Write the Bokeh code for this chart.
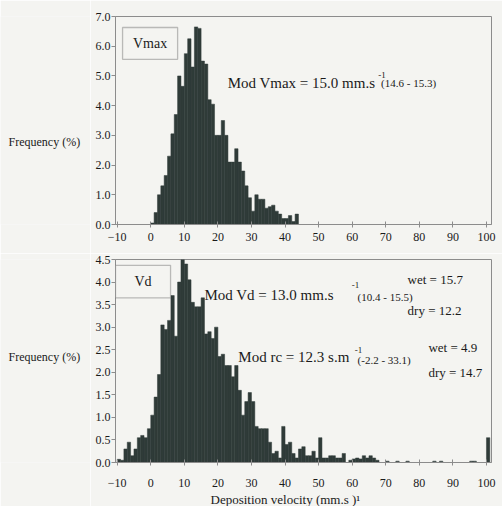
from bokeh.plotting import figure
from bokeh.layouts import column, row
from bokeh.models import FixedTicker, PrintfTickFormatter, Label, BoxAnnotation, Range1d, Title
from bokeh.core.properties import value
from bokeh.embed import file_html
from bokeh.resources import INLINE

# ---------------- data ----------------
x_ticks = [-10, 0, 10, 20, 30, 40, 50, 60, 70, 80, 90, 100]

vmax_left = list(range(0, 44))
vmax_freq = [0.05, 0.4, 1.0, 1.3, 1.65, 2.3, 3.05, 3.7, 5.0, 4.65,
             5.75, 6.25, 5.3, 6.65, 6.6, 5.5, 5.4, 4.2, 4.05, 3.0,
             3.0, 3.5, 3.0, 2.1, 2.1, 2.55, 2.1, 1.8, 1.3, 0.9,
             0.45, 1.0, 0.85, 0.85, 0.55, 0.6, 0.65, 0.45, 0.35, 0.2,
             0.2, 0.3, 0.1, 0.35]

vd_left = list(range(-10, 68)) + [70, 73, 76, 84, 86, 95, 96, 100]
vd_freq = [0.07, 0.05, 0.3, 0.45, 0.15, 0.3, 0.55, 0.6, 0.55, 0.75,
           1.05, 1.45, 1.95, 3.05, 2.95, 3.15, 3.7, 2.8, 4.0, 4.5,
           4.4, 4.05, 3.55, 3.45, 3.45, 3.65, 2.85, 2.9, 2.75, 3.0,
           2.35, 2.4, 2.15, 2.15, 1.9, 2.15, 1.6, 1.05, 1.35, 1.55,
           1.35, 0.8, 0.75, 0.75, 0.75, 0.45, 0.2, 0.25, 0.1, 0.8,
           0.4, 0.45, 0.2, 0.1, 0.3, 0.35, 0.15, 0.15, 0.25, 0.1,
           0.55, 0.1, 0.1, 0.15, 0.15, 0.1, 0.1, 0.2, 0.0, 0.05,
           0.08, 0.1, 0.08, 0.15, 0.1, 0.15, 0.1, 0.05,
           0.03, 0.03, 0.03, 0.03, 0.03, 0.03, 0.03, 0.55]

top_y_ticks = [0, 1, 2, 3, 4, 5, 6, 7]
bot_y_ticks = [0, 0.5, 1.0, 1.5, 2.0, 2.5, 3.0, 3.5, 4.0, 4.5]

y_label = "Frequency (%)"
x_label = "Deposition velocity (mm.s  )\u00b9"

# ---------------- style ----------------
FONT = "Liberation Serif"
BG = "#f4f4f1"
BAR = "#2f3b38"
AX = "#8c8c8c"
TXT = "#1a1a1a"
LAB_W = 90
H = 253


def base_fig(ymax, yticks, top, bottom):
    p = figure(width=502 - LAB_W, height=H, output_backend="svg", toolbar_location=None,
               x_range=Range1d(-10.5, 101.5), y_range=Range1d(0, ymax),
               min_border_left=115 - LAB_W, min_border_right=11,
               min_border_top=top, min_border_bottom=bottom)
    p.background_fill_color = BG
    p.border_fill_color = BG
    p.outline_line_color = AX
    p.outline_line_width = 1
    p.xgrid.visible = False
    p.ygrid.visible = False
    for ax in (p.xaxis[0], p.yaxis[0]):
        ax.axis_line_color = AX
        ax.major_tick_line_color = AX
        ax.minor_tick_line_color = None
        ax.major_label_text_font = FONT
        ax.major_label_text_font_size = "12px"
        ax.major_label_text_color = TXT
    p.xaxis.ticker = FixedTicker(ticks=x_ticks)
    p.xaxis.major_tick_in = 3
    p.xaxis.major_tick_out = 3
    p.yaxis.ticker = FixedTicker(ticks=yticks)
    p.yaxis.formatter = PrintfTickFormatter(format="%.1f")
    p.yaxis.major_tick_in = 0
    p.yaxis.major_tick_out = 4
    p.yaxis.major_label_standoff = 1
    return p


def label_strip(y_pos):
    s = figure(width=LAB_W, height=H, output_backend="svg", toolbar_location=None,
               x_range=Range1d(0, LAB_W), y_range=Range1d(0, H),
               x_axis_type=None, y_axis_type=None, min_border=0)
    s.background_fill_color = BG
    s.border_fill_color = BG
    s.outline_line_color = None
    s.xgrid.visible = False
    s.ygrid.visible = False
    s.text(x=[8], y=[y_pos], text=[y_label], text_font=value(FONT),
           text_font_size="12px", text_color=TXT, text_baseline="middle", text_align="left")
    return s


def txt(p, x, y, s, size="15px", baseline="middle", align="left"):
    p.add_layout(Label(x=x, y=y, text=s, text_font=FONT, text_font_size=size,
                       text_color=TXT, text_baseline=baseline, text_align=align))


# ---------------- top panel: Vmax ----------------
p1 = base_fig(7.0, top_y_ticks, 16, 29)
p1.xaxis.major_label_standoff = 5
p1.quad(left=vmax_left, right=[v + 1 for v in vmax_left], top=vmax_freq, bottom=0,
        fill_color=BAR, line_color=BAR, line_width=0.5)
p1.add_layout(BoxAnnotation(left=-8.4, right=8.0, bottom=5.56, top=6.63,
                            fill_color=BG, fill_alpha=1.0, line_color="#333333",
                            line_width=1.3))
txt(p1, -0.2, 6.1, "Vmax", "14px", align="center")
txt(p1, 22.9, 4.75, "Mod Vmax = 15.0 mm.s")
txt(p1, 67.8, 5.02, "-1", "9px")
txt(p1, 68.6, 4.75, "(14.6 - 15.3)", "11px")

# ---------------- bottom panel: Vd ----------------
p2 = base_fig(4.5, bot_y_ticks, 6, 42)
p2.xaxis.major_label_standoff = 13
p2.quad(left=vd_left, right=[v + 1 for v in vd_left], top=vd_freq, bottom=0,
        fill_color=BAR, line_color=BAR, line_width=0.5)
p2.add_layout(BoxAnnotation(left=-10.5, right=5.9, bottom=3.65, top=4.37,
                            fill_color=BG, fill_alpha=1.0, line_color="#333333",
                            line_width=1.3))
txt(p2, -2.3, 4.01, "Vd", "14px", align="center")
txt(p2, 16.0, 3.71, "Mod Vd = 13.0 mm.s")
txt(p2, 59.9, 3.93, "-1", "9px")
txt(p2, 61.6, 3.66, "(10.4 - 15.5)", "11px")
txt(p2, 76.5, 4.06, "wet = 15.7", "13px")
txt(p2, 76.5, 3.36, "dry = 12.2", "13px")
txt(p2, 26.1, 2.34, "Mod  rc = 12.3 s.m")
txt(p2, 60.8, 2.5, "-1", "9px")
txt(p2, 61.6, 2.27, "(-2.2 - 33.1)", "11px")
txt(p2, 82.7, 2.55, "wet = 4.9", "13px")
txt(p2, 82.7, 2.0, "dry = 14.7", "13px")
p2.add_layout(Title(text=x_label, align="left", offset=95, standoff=0,
                    text_font=FONT, text_font_size="13px", text_font_style="normal",
                    text_color=TXT), "below")

layout = column(row(label_strip(100), p1), row(label_strip(131), p2))
open("out.html", "w").write(file_html(layout, INLINE))
